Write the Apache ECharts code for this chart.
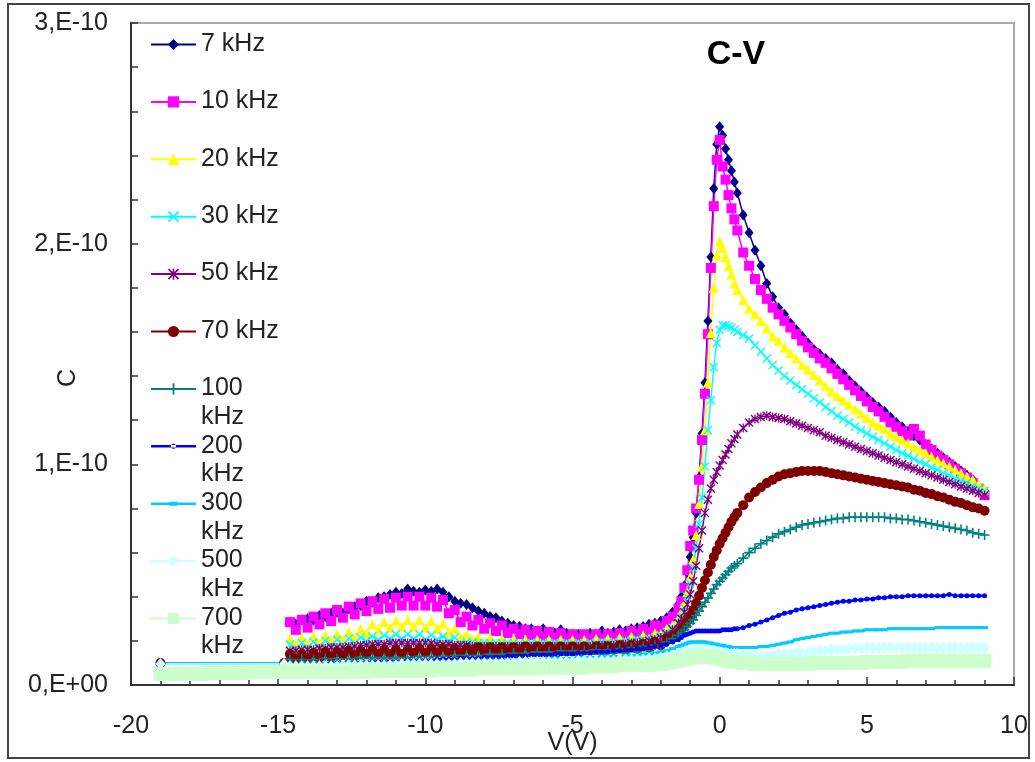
<!DOCTYPE html>
<html>
<head>
<meta charset="utf-8">
<script src="https://cdn.jsdelivr.net/npm/echarts@6/dist/echarts.min.js"></script>
<style>
html, body { margin: 0; padding: 0; background: #fff; }
#chart { width: 1035px; height: 762px; }
</style>
</head>
<body>
<div id="chart"></div>
<script>
// Bias sweep (V) shared by the 7 kHz ... 500 kHz runs
const V_SWEEP = [
  -14.6,-14.4,-14.2,-14,-13.8,-13.6,-13.4,-13.2,-13,-12.8,
  -12.6,-12.4,-12.2,-12,-11.8,-11.6,-11.4,-11.2,-11,-10.8,
  -10.6,-10.4,-10.2,-10,-9.8,-9.6,-9.4,-9.2,-9,-8.8,
  -8.6,-8.4,-8.2,-8,-7.8,-7.6,-7.4,-7.2,-7,-6.8,
  -6.6,-6.4,-6.2,-6,-5.8,-5.6,-5.4,-5.2,-5,-4.8,
  -4.6,-4.4,-4.2,-4,-3.8,-3.6,-3.4,-3.2,-3,-2.8,
  -2.6,-2.4,-2.2,-2,-1.8,-1.6,-1.4,
  -1.3,-1.2,-1.1,-1,-0.9,-0.8,-0.7,-0.6,-0.5,-0.4,
  -0.3,-0.2,-0.1,0,0.1,0.2,0.3,0.4,0.5,
  0.6,0.8,1,1.2,1.4,1.6,1.8,2,2.2,2.4,
  2.6,2.8,3,3.2,3.4,3.6,3.8,4,4.2,4.4,
  4.6,4.8,5,5.2,5.4,5.6,5.8,6,6.2,6.4,
  6.6,6.8,7,7.2,7.4,7.6,7.8,8,8.2,8.4,
  8.6,8.8,9
];
// Extra low-bias points of the 700 kHz run (V)
const V_LOW = [
  -19,-18.8,-18.6,-18.4,-18.2,-18,-17.8,-17.6,-17.4,-17.2,
  -17,-16.8,-16.6,-16.4,-16.2,-16,-15.8,-15.6,-15.4,-15.2,
  -15,-14.8
];
// First two bias points of the 70 ... 500 kHz runs (V)
const V_FIRST = [-19, -14.8];

// Capacitance in pF
const C_7K = [
  28.5,27.5,29.5,30,29.5,31.5,31,32.5,33,32.5,
  34.5,35.5,36,38,37.5,39.5,40,41,42,41.5,
  43.5,42.5,42,43,42.5,43.5,42,40,38,37,
  36.5,35,33.5,32.5,31,30.5,29,28,27,26.5,
  25.5,25.5,24.5,25.5,24,23.5,25,23.5,23,23,
  22.5,23.5,23,24.5,23.5,24,25,24.5,25.5,26,
  26.5,27.5,28,29,30.5,33,36.5,
  40,45,51,58,67,78,94,114,137,165,
  194,225,245,253,249,243,238,233,228,
  223,213,205,197,190,182,176,171,168,164,
  161,158,155,152,150,148,146,143,141,138,
  135.5,133,130.5,128,126,124,121.5,119,117,115,
  113,111,109,107,105,103,101,99,97,95,
  93,90,88
];
const C_10K = [
  28.5,25,29.5,26,31,27.5,32.5,29,34,30.5,
  35.5,32,37,33.5,38,34.5,39,35,39.5,36,
  40,36,40,36,39.5,35.5,38.5,32.5,34,28.5,
  31,27,29.5,25.5,28,24.5,27,23.5,25.5,23,
  25,22.5,24.5,22,24,21.5,23.5,21,23,21,
  23,21,23,21,23,21.5,23.5,22,24.5,23,
  25.5,24,27,26,29,31,34.5,
  38,44,52,63,70,80,93,111,132,159,
  189,217,238,247,235,229,222,216,211,
  206,196,190,184,179,175,171,168,165,162,
  159,156,153,150.5,148,146,143.5,141,138.5,136,
  133.5,131,128.5,126,124,121.5,119,117,115,113,
  116,113,109,106.5,104,102,100,98,96,94,
  91.5,89,86
];
const C_20K = [
  21,18,21.5,18.5,22,19,22.5,20,23,20.5,
  24,21.5,25.5,23.5,27.5,25,28.5,26,29,26.5,
  29.5,26.5,29.5,26,29,25.5,28,24,25.5,21.5,
  23,20.5,22,19.5,21.5,19,21,19,21,18.5,
  20.5,18.5,20.5,18.5,20.5,18.5,20.5,18.5,20.5,18.5,
  20.5,18.5,21,19,21,19,21.5,19.5,22,20,
  22.5,21,23.5,23,25.5,27,30,
  33,37,42,49,57,68,82,99,115.5,137,
  159.5,180,195,201,198,194,190,186,182,
  179,174.5,170.5,168,165,161.5,158,156,153,150.5,
  148,145,143,140.5,138,135.5,133,131,129,127,
  125,123,121,119,117.5,116,114,112.5,111,109.5,
  108,106.5,105,103.5,102,100.5,99,97.5,96,94.5,
  93,91,89
];
const C_30K = [
  18.5,16.5,19,17,19.5,17.5,20,18,20.5,18.5,
  21,19,21.5,20,22,20.5,22.5,21,23,21,
  23,21,23,20.5,22.5,20.5,22,20,21.5,19,
  19.5,19.5,19,19,19,19,19,19,19,19,
  19,19,19,19,19,19,19,19,19,19,
  19,19,19,19.5,19.5,19.5,19.5,20,20,20.5,
  20.5,21,21.5,22.5,24,26,28.5,
  31,35,40,46,53,62,73,85,99,115.5,
  129,144,155,161,163,163,162.5,162,161,
  160,158.5,157,154,151,148,145,142.5,140,138,
  136,134,132,130,128,126,124,122,120.5,119,
  117,115.5,114,112.5,111,109.5,108,106.5,105,104,
  102.5,101,100,98.5,97.5,96,95,93.5,92.5,91.5,
  90,89,88
];
const C_50K = [
  15.5,15.5,16,16,16,16.5,16.5,17,17,17,
  17.5,17.5,18,18,18.5,18.5,18.5,19,19,19,
  19,19,19,19,19,18.5,18.5,18.5,18,18,
  18,17.5,17.5,17.5,17.5,17.5,17.5,17.5,17.5,17.5,
  17.5,17.5,17.5,17.5,17.5,17.5,17.5,17.5,17.5,17.5,
  17.5,17.5,18,18,18,18,18.5,18.5,19,19,
  19.5,20,20.5,21.5,23,25,28,
  30,33,36.5,41,47,54,62,70,78,84,
  89,93,96.5,99.5,102,104.5,107,109.5,111.5,
  113.5,116.5,119,120.5,121.5,122,121.5,121,120.5,119.5,
  118.5,117.5,116.5,115.5,114.5,113,112,111,110,109,
  108,107,106,105,104,103,102,101,100,99,
  98,97,96,95,94,93,92,91,90,89,
  88,87,86
];
const C_70K = [
  14,12,14,12.5,14.5,12.5,15,13,15,13.5,
  15.5,13.5,15.5,14,16,14,16,14,16,14,
  16,14.5,16.5,14.5,16.5,14.5,16.5,14.5,16.5,14.5,
  16.5,15,17,15,17,15,17,15,17,15,
  17.5,15.5,17.5,15.5,17.5,15.5,17.5,15.5,17.5,15.5,
  17.5,15.5,17.5,15.5,17.5,16,18,16,18,16.5,
  18.5,17,19.5,18,21,22,24,
  25.5,27,29,31.5,34,37,40.5,44,47.5,51,
  54.5,58,61,64,66.5,69,71.5,74,76,
  78,81.5,85,87.5,89.5,91.5,93,94.5,95.5,96,
  96.5,97,97,97,97,96.5,96,95.5,95,94.5,
  94,93.5,93,92.5,92,91.5,91,90.5,90,89.5,
  88.5,88,87,86.5,85.5,85,84,83,82.5,81.5,
  80.5,80,79
];
const C_100K = [
  11.5,9.5,11.5,9.5,11.5,10,12,10,12,10,
  12,10.5,12.5,10.5,12.5,10.5,12.5,10.5,12.5,10.5,
  12.5,11,13,11,13,11,13,11,13.5,11.5,
  13.5,11.5,13.5,12,14,12,14,12.5,14.5,12.5,
  14.5,13,15,13,15,13,15.5,13.5,15.5,13.5,
  15.5,14,16,14,16,14.5,16.5,14.5,17,15,
  17.5,15.5,18,17.5,19.5,21,22.5,
  23.5,25,26.5,28,29.5,31.5,33.5,35.5,37.5,39.5,
  41.5,43.5,45.5,47,48.5,50,51.5,53,54,
  55,57.5,60,62,64,65.5,67,68.5,69.5,70.5,
  71.5,72.5,73,73.5,74,74.5,75,75.5,75.5,76,
  76,76,76,76,76,76,75.5,75.5,75,75,
  74.5,74,73.5,73,72.5,72,71.5,71,70.5,70,
  69,68.5,68
];
const C_200K = [
  9.5,9.5,9.5,9.5,9.5,9.5,9.5,10,10,10,
  10,10,10,10,10.5,10.5,10.5,10.5,10.5,10.5,
  11,11,11,11,11,11.5,11.5,11.5,11.5,12,
  12,12,12,12.5,12.5,12.5,12.5,13,13,13,
  13,13.5,13.5,13.5,13.5,14,14,14,14,14.5,
  14.5,14.5,15,15,15,15.5,15.5,16,16,16.5,
  16.5,17,17.5,18,18.5,19.5,20.5,
  21.5,22.5,23,23.5,24,24.5,24.5,24.5,24.5,24.5,
  24.5,24.5,24.5,24.5,25,25,25,25,25.5,
  25.5,26,27,27.5,28.5,29.5,30.5,31.5,32.5,33,
  34,34.5,35,35.5,36,36.5,37,37.5,38,38,
  38.5,38.5,39,39,39.5,39.5,40,40,40,40.5,
  40.5,40.5,40.5,40.5,40.5,40.5,41,40.5,40.5,40.5,
  40.5,40.5,40.5
];
const C_300K = [
  9,9,9,9,9,9,9,9,9.5,9.5,
  9.5,9.5,9.5,9.5,9.5,9.5,9.5,10,10,10,
  10,10,10,10,10,10,10.5,10.5,10.5,10.5,
  10.5,10.5,10.5,11,11,11,11,11,11,11.5,
  11.5,11.5,11.5,11.5,12,12,12,12,12,12.5,
  12.5,12.5,12.5,13,13,13,13,13.5,13.5,13.5,
  14,14,14.5,15,15.5,16.5,17.5,
  18,18.5,19,19.5,19.5,19.5,19.5,19.5,19.5,19,
  19,18.5,18.5,18,18,17.5,17.5,17,17,
  17,17,17,17,17.5,17.5,18,18.5,19,19.5,
  20.5,21,21.5,22,22.5,23,23.5,23.5,24,24,
  24.5,24.5,25,25,25,25,25.5,25.5,25.5,25.5,
  25.5,25.5,25.5,25.5,26,26,26,26,26,26,
  26,26,26
];
const C_500K = [
  8.5,8.5,8.5,8.5,8.5,8.5,8.5,8.5,8.5,9,
  9,9,9,9,9,9,9,9,9,9.5,
  9.5,9.5,9.5,9.5,9.5,9.5,9.5,9.5,9.5,10,
  10,10,10,10,10,10,10,10,10,10.5,
  10.5,10.5,10.5,10.5,10.5,10.5,10.5,10.5,10.5,11,
  11,11,11,11,11,11,11.5,11.5,11.5,11.5,
  11.5,12,12,12.5,13,13.5,14,
  14.5,15,15,15.5,15.5,16,16,16,16,16,
  15.5,15.5,15,15,14.5,14.5,14,14,14,
  14,13.5,13.5,13.5,13.5,13.5,13.5,14,14,14,
  14.5,14.5,15,15,15.5,15.5,16,16,16,16.5,
  16.5,16.5,17,17,17,17,17,17,17,17,
  17,17,17,17,17,17,17,17,17,17,
  17,17,17
];
const C_700K_LOW = [
  5,5,5,5,5,5,5,5,5.5,5.5,
  5.5,5.5,5.5,5.5,5.5,5.5,6,6,6,6,
  6,6
];
const C_700K = [
  6,6,6,6,6,6,6,6,6,6,
  6,6,6,6,6.5,6.5,6.5,6.5,6.5,6.5,
  6.5,6.5,6.5,6.5,6.5,7,7,7,7,7,
  7,7,7.5,7.5,7.5,7.5,7.5,7.5,7.5,7.5,
  7.5,7.5,7.5,8,8,8,8,8,8,8,
  8,8.5,8.5,8.5,8.5,8.5,9,9,9,9,
  9,9,9.5,9.5,10,10.5,11,
  11.5,12,12,12.5,12.5,13,13,13,13,13,
  13,12.5,12.5,12,11.5,11.5,11,11,10.5,
  10.5,10,10,9.5,9.5,9.5,9.5,9.5,9.5,9.5,
  9.5,9.5,9.5,10,10,10,10,10,10,10,
  10,10,10.5,10.5,10.5,10.5,10.5,10.5,10.5,11,
  11,11,11,11,11,11,11,11,11,11,
  11,11,11
];
// Values at V_FIRST for the 70, 100, 200, 300, 500 kHz runs (pF)
const C_FIRST_70K = [10, 10];
const C_FIRST_100K = [9.8, 9.8];
const C_FIRST_200K = [9.8, 9.8];
const C_FIRST_300K = [9.8, 9.8];
const C_FIRST_500K = [9.5, 9.5];

const FREQ_NAMES = ['7 kHz','10 kHz','20 kHz','30 kHz','50 kHz','70 kHz','100 kHz','200 kHz','300 kHz','500 kHz','700 kHz'];
const X_TICKS = [-20, -15, -10, -5, 0, 5, 10];

// ---------------------------------------------------------------
const FONT = "'Liberation Sans', Arial, Helvetica, sans-serif";
const SYM_X = 'path://M0,1.1L1.1,0L5,3.9L8.9,0L10,1.1L6.1,5L10,8.9L8.9,10L5,6.1L1.1,10L0,8.9L3.9,5Z';
const SYM_STAR = 'path://M0,1.1L1.1,0L5,3.9L8.9,0L10,1.1L6.1,5L10,8.9L8.9,10L5,6.1L1.1,10L0,8.9L3.9,5Z' +
                 'M4.3,0L5.7,0L5.7,10L4.3,10Z';
const SYM_PLUS = 'path://M4.2,0L5.8,0L5.8,4.2L10,4.2L10,5.8L5.8,5.8L5.8,10L4.2,10L4.2,5.8L0,5.8L0,4.2L4.2,4.2Z';
// legend keys (line + small marker) for the thin-marker runs
const KEY_DOT = 'path://M0,5.75L45,5.75L45,8.25L0,8.25Z' +
                'M20,7A2.5,2.5,0,1,0,25,7A2.5,2.5,0,1,0,20,7Z';
const KEY_DASH = 'path://M0,5.75L45,5.75L45,8.25L0,8.25Z' +
                 'M18.5,5L26.5,5L26.5,9L18.5,9Z';

const STYLES = [
  { color: '#000080', symbol: 'diamond', size: [9, 11], width: 1.5 },
  { color: '#FF00FF', symbol: 'rect',    size: 10, width: 1.5 },
  { color: '#FFFF00', symbol: 'triangle', size: 10, width: 1.5 },
  { color: '#00FFFF', symbol: SYM_X,     size: 9, width: 1.5 },
  { color: '#800080', symbol: SYM_STAR,  size: 9, width: 1.5 },
  { color: '#800000', symbol: 'circle',  size: 10, width: 1.5 },
  { color: '#008080', symbol: SYM_PLUS,  size: 10, width: 1.5 },
  { color: '#0000FF', symbol: 'circle',  size: 5, width: 2.5, key: KEY_DOT },
  { color: '#00CCFF', symbol: 'rect',    size: [7, 3], width: 2.5, key: KEY_DASH },
  { color: '#CCFFFF', symbol: 'diamond', size: [10, 12], width: 1.5 },
  { color: '#CCFFCC', symbol: 'rect',    size: 14, width: 1.5 }
];

const runs = [
  { v: V_SWEEP, c: C_7K },
  { v: V_SWEEP, c: C_10K },
  { v: V_SWEEP, c: C_20K },
  { v: V_SWEEP, c: C_30K },
  { v: V_SWEEP, c: C_50K },
  { v: V_FIRST.concat(V_SWEEP), c: C_FIRST_70K.concat(C_70K) },
  { v: V_FIRST.concat(V_SWEEP), c: C_FIRST_100K.concat(C_100K) },
  { v: V_FIRST.concat(V_SWEEP), c: C_FIRST_200K.concat(C_200K) },
  { v: V_FIRST.concat(V_SWEEP), c: C_FIRST_300K.concat(C_300K) },
  { v: V_FIRST.concat(V_SWEEP), c: C_FIRST_500K.concat(C_500K) },
  { v: V_LOW.concat(V_SWEEP), c: C_700K_LOW.concat(C_700K) }
];
runs.forEach(function (r, i) {
  if (r.v.length !== r.c.length) {
    throw new Error(FREQ_NAMES[i] + ': ' + r.v.length + ' V vs ' + r.c.length + ' C');
  }
});

const series = runs.map(function (r, i) {
  const st = STYLES[i];
  return {
    type: 'line',
    name: FREQ_NAMES[i],
    data: r.v.map(function (v, k) { return [v, r.c[k] * 1e-12]; }),
    symbol: st.symbol,
    symbolSize: st.size,
    showSymbol: true,
    itemStyle: { color: st.color },
    lineStyle: { color: st.color, width: st.width },
    emphasis: { disabled: true },
    animation: false
  };
});

// legend names printed on two lines, number beside the key
const WRAPPED = ['100 kHz', '200 kHz', '300 kHz', '500 kHz', '700 kHz'];
const LEGEND_TXT = { fontFamily: FONT, fontSize: 25, color: '#222' };

const chart = echarts.init(document.getElementById('chart'), null, { renderer: 'canvas' });
chart.setOption({
  backgroundColor: '#ffffff',
  animation: false,
  title: {
    text: 'C-V',
    left: 736,
    top: 38,
    textAlign: 'center',
    padding: 0,
    textStyle: { fontFamily: FONT, fontSize: 34, fontWeight: 'bold', color: '#000' }
  },
  graphic: [{
    type: 'rect',
    shape: { x: 8, y: 4, width: 1021, height: 754 },
    style: { fill: 'none', stroke: '#444', lineWidth: 2 },
    silent: true,
    z: -10
  }],
  grid: {
    left: 131, right: 21, top: 23, bottom: 77,
    outerBoundsMode: 'none',
    containLabel: false,
    show: true, borderColor: '#aaa', borderWidth: 2, backgroundColor: 'transparent'
  },
  legend: {
    orient: 'vertical',
    left: 150,
    top: 31.5,
    padding: 0,
    itemGap: 3.9,
    itemWidth: 45,
    itemHeight: 14,
    symbolKeepAspect: true,
    selectedMode: false,
    textStyle: Object.assign({ rich: {
      a: Object.assign({ lineHeight: 56 }, LEGEND_TXT),
      b: Object.assign({ lineHeight: 1 }, LEGEND_TXT)
    } }, LEGEND_TXT),
    formatter: function (name) {
      if (WRAPPED.indexOf(name) < 0) return '{a|' + name + '}\n{b|\u00a0}';
      const parts = name.split(' ');
      return '{a|' + parts[0] + '}\n{b|' + parts[1] + '}';
    },
    data: FREQ_NAMES.map(function (n, i) {
      return STYLES[i].key ? { name: n, icon: STYLES[i].key } : { name: n };
    })
  },
  xAxis: {
    type: 'value',
    min: X_TICKS[0],
    max: X_TICKS[X_TICKS.length - 1],
    interval: 5,
    name: 'V(V)',
    nameLocation: 'middle',
    nameGap: 46,
    nameMoveOverlap: false,
    nameTextStyle: { fontFamily: FONT, fontSize: 25, color: '#222' },
    axisLine: { show: true, onZero: false, lineStyle: { color: '#333', width: 2 } },
    axisTick: { show: true, inside: true, length: 8, lineStyle: { color: '#333', width: 1.5 } },
    minorTick: { show: true, splitNumber: 5, length: 5, lineStyle: { color: '#333', width: 1.5 } },
    splitLine: { show: false },
    axisLabel: { fontFamily: FONT, fontSize: 25, color: '#222', margin: 29 }
  },
  yAxis: {
    type: 'value',
    min: 0,
    max: 3e-10,
    interval: 1e-10,
    name: 'C',
    nameLocation: 'middle',
    nameGap: 50,
    nameMoveOverlap: false,
    nameTextStyle: { fontFamily: FONT, fontSize: 25, color: '#222', padding: [0, 48, 0, 0] },
    axisLine: { show: true, onZero: false, lineStyle: { color: '#333', width: 2 } },
    axisTick: { show: true, inside: true, length: 7, lineStyle: { color: '#333', width: 1.5 } },
    minorTick: { show: true, splitNumber: 5, length: 7, lineStyle: { color: '#333', width: 1.5 } },
    splitLine: { show: false },
    axisLabel: {
      fontFamily: FONT, fontSize: 25, color: '#222', margin: 23,
      formatter: function (v) {
        const n = Math.round(v * 1e10);
        return n === 0 ? '0,E+00' : n + ',E-10';
      }
    }
  },
  series: series
});
</script>
</body>
</html>
